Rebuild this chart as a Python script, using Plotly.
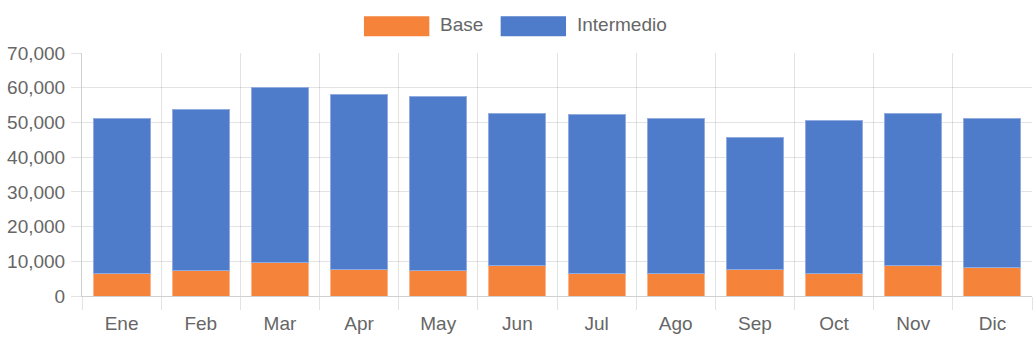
import plotly.graph_objects as go

# Monthly stacked totals
months = ["Ene", "Feb", "Mar", "Apr", "May", "Jun", "Jul", "Ago", "Sep", "Oct", "Nov", "Dic"]
base = [6500, 7300, 9600, 7700, 7300, 8700, 6600, 6500, 7700, 6500, 8700, 8300]
intermedio = [44500, 46300, 50500, 50300, 50100, 43900, 45600, 44500, 38100, 44000, 43900, 42900]
y_ticks = [0, 10000, 20000, 30000, 40000, 50000, 60000, 70000]

ORANGE = "#f5833a"
BLUE = "#4f7bcb"
TEXT = "#666666"
GRID = "rgba(0,0,0,0.11)"
FONT = "Liberation Sans, Arial, Helvetica, sans-serif"

fig = go.Figure()
fig.add_trace(go.Bar(
    name="Base", x=months, y=base,
    marker=dict(color=ORANGE, line=dict(color="#f9b58c", width=1)),
))
fig.add_trace(go.Bar(
    name="Intermedio", x=months, y=intermedio,
    marker=dict(color=BLUE, line=dict(color="#93acdf", width=1)),
))

# Legend drawn as boxes + labels above the plot area
legend_items = [("Base", ORANGE, 0.2968, 0.3656, 0.3752),
                ("Intermedio", BLUE, 0.4407, 0.5095, 0.5191)]
for label, color, x0, x1, xt in legend_items:
    fig.add_shape(type="rect", xref="paper", yref="paper",
                  x0=x0, x1=x1, y0=1.069, y1=1.151,
                  fillcolor=color, line=dict(width=0))
    fig.add_annotation(xref="paper", yref="paper", x=xt, y=1.117,
                       text=label, showarrow=False, xanchor="left", yanchor="middle",
                       font=dict(family=FONT, size=19, color=TEXT))

fig.update_layout(
    barmode="stack",
    bargap=0.28,
    width=1033, height=343,
    margin=dict(l=82, r=1, t=53, b=47),
    paper_bgcolor="white", plot_bgcolor="white",
    showlegend=False,
    font=dict(family=FONT, size=19, color=TEXT),
)
fig.update_xaxes(
    type="category",
    tickson="boundaries",
    showgrid=True, gridcolor=GRID, gridwidth=1,
    ticks="outside", ticklen=13, tickcolor=GRID,
    ticklabelstandoff=10,
    showline=True, linecolor="#d0d0d0", linewidth=1,
    tickfont=dict(family=FONT, size=19, color=TEXT),
)
fig.update_yaxes(
    range=[0, 70000],
    tickvals=y_ticks, tickformat=",d",
    showgrid=True, gridcolor=GRID, gridwidth=1,
    zeroline=False,
    ticks="outside", ticklen=10, tickcolor=GRID,
    ticklabelstandoff=2,
    showline=True, linecolor="#d0d0d0", linewidth=1,
    tickfont=dict(family=FONT, size=19, color=TEXT),
)

fig.write_html("out.html")
